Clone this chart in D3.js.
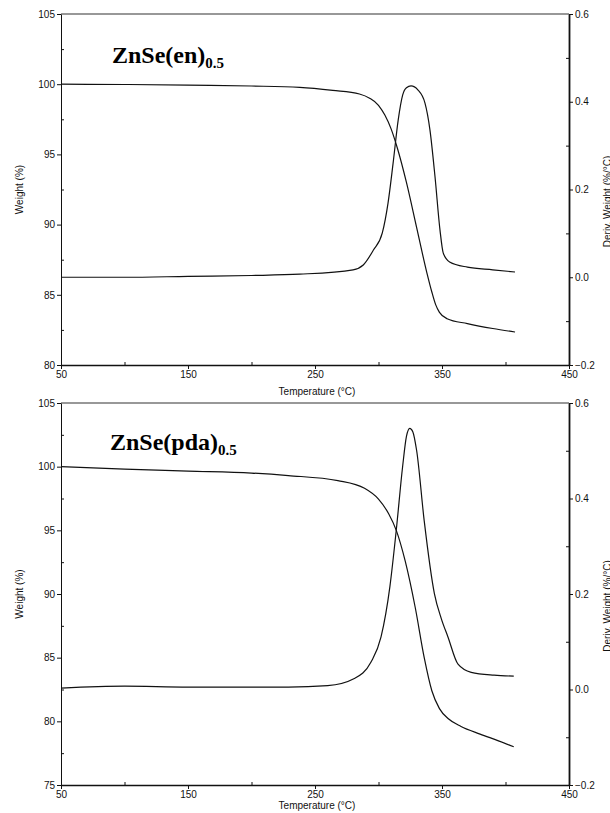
<!DOCTYPE html>
<html>
<head>
<meta charset="utf-8">
<script src="https://d3js.org/d3.v7.min.js"></script>
<style>
  body { margin: 0; background: #fff; }
  svg { display: block; }
  .axis text { font-family: "Liberation Sans", Arial, sans-serif; font-size: 10px; fill: #111; }
  .axis path, .axis line { stroke: #111; }
  .lbl { font-family: "Liberation Sans", Arial, sans-serif; font-size: 10px; fill: #111; }
  .title { font-family: "Liberation Serif", "Times New Roman", serif; font-weight: bold; font-size: 24px; fill: #000; }
</style>
</head>
<body>
<div id="chart"></div>
<script>
// temperature ticks (shared by both panels)
const tempTicks = [50, 150, 250, 350, 450];
const tempMinor = [100, 200, 300, 400];
const derivTicks = [-0.2, 0, 0.2, 0.4, 0.6];
const derivMinor = [-0.1, 0.1, 0.3, 0.5];

// ZnSe(en)0.5 : [temperature, weight %]
const enWeight = [
  [50, 100.0], [100, 99.98], [150, 99.93], [200, 99.87], [238, 99.78], [264, 99.56],
  [285, 99.3], [293, 99.0], [300, 98.5], [305, 97.8], [310, 96.8], [315, 95.4],
  [322, 93.0], [330, 89.8], [338, 86.6], [342, 85.2], [345, 84.3], [348, 83.75],
  [354, 83.3], [370, 82.95], [390, 82.6], [407.5, 82.35]
];
// ZnSe(en)0.5 : [temperature, deriv. weight %/°C]
const enDeriv = [
  [50, 0.0], [100, 0.0], [150, 0.002], [200, 0.004], [238, 0.007], [280, 0.017],
  [288, 0.028], [296, 0.062], [303, 0.101], [307.5, 0.169], [311.5, 0.26], [315.5, 0.358],
  [319, 0.415], [322, 0.432], [325.6, 0.436], [331, 0.427], [336.6, 0.397], [340.5, 0.336],
  [344.5, 0.229], [348.4, 0.108], [351, 0.055], [356, 0.035], [370, 0.023], [390, 0.017],
  [407.5, 0.012]
];
const enWeightTicks = [80, 85, 90, 95, 100, 105];
const enWeightMinor = [82.5, 87.5, 92.5, 97.5, 102.5];

// ZnSe(pda)0.5
const pdaWeight = [
  [50, 100.0], [100, 99.8], [150, 99.65], [200, 99.5], [229, 99.3], [268, 98.9],
  [289, 98.3], [300, 97.45], [308, 96.3], [314, 95.0], [321, 92.6], [329, 88.9],
  [336, 85.0], [342, 82.4], [348, 81.0], [355, 80.2], [365, 79.6], [380, 79.0],
  [395, 78.45], [406.5, 78.0]
];
const pdaDeriv = [
  [50, 0.003], [100, 0.007], [150, 0.005], [200, 0.005], [229, 0.005], [260, 0.008],
  [281, 0.023], [294, 0.057], [302, 0.11], [309, 0.216], [314, 0.334], [319, 0.467],
  [322, 0.53], [324.6, 0.547], [327, 0.54], [330, 0.501], [336, 0.353], [344, 0.201],
  [349.5, 0.148], [354.7, 0.11], [362.6, 0.053], [373, 0.036], [391, 0.030], [406.5, 0.028]
];
const pdaWeightTicks = [75, 80, 85, 90, 95, 100, 105];
const pdaWeightMinor = [77.5, 82.5, 87.5, 92.5, 97.5, 102.5];

const panels = [
  { name: 'ZnSe(en)', sub: '0.5', top: 14, bottom: 365, wDomain: [80, 105],
    wTicks: enWeightTicks, wMinor: enWeightMinor, weight: enWeight, deriv: enDeriv,
    titleX: 112, titleY: 63 },
  { name: 'ZnSe(pda)', sub: '0.5', top: 403, bottom: 785, wDomain: [75, 105],
    wTicks: pdaWeightTicks, wMinor: pdaWeightMinor, weight: pdaWeight, deriv: pdaDeriv,
    titleX: 110, titleY: 450 }
];

const W = 610, H = 813;
const left = 61, right = 569;

const svg = d3.select('#chart').append('svg')
  .attr('width', W)
  .attr('height', H);

const x = d3.scaleLinear().domain([50, 450]).range([left, right]);

panels.forEach((p, i) => {
  const yW = d3.scaleLinear().domain(p.wDomain).range([p.bottom, p.top]);
  const yD = d3.scaleLinear().domain([-0.2, 0.6]).range([p.bottom, p.top]);
  const g = svg.append('g');

  // top frame line
  g.append('line')
    .attr('x1', left).attr('x2', right)
    .attr('y1', p.top).attr('y2', p.top)
    .attr('stroke', '#333').attr('stroke-width', 1.2);

  // x axis
  g.append('g').attr('class', 'axis')
    .attr('transform', `translate(0,${p.bottom})`)
    .call(d3.axisBottom(x).tickValues(tempTicks).tickSize(4).tickSizeOuter(0).tickPadding(2))
    .call(a => a.select('.domain').attr('stroke-width', 1.5));
  g.append('g').attr('class', 'axis')
    .attr('transform', `translate(0,${p.bottom})`)
    .call(d3.axisBottom(x).tickValues(tempMinor).tickSize(-3).tickFormat(''))
    .call(a => a.select('.domain').remove());

  // left weight axis
  g.append('g').attr('class', 'axis')
    .attr('transform', `translate(${left},0)`)
    .call(d3.axisLeft(yW).tickValues(p.wTicks).tickSize(4).tickSizeOuter(0).tickPadding(2))
    .call(a => a.select('.domain').attr('stroke', '#444'));
  g.append('g').attr('class', 'axis')
    .attr('transform', `translate(${left},0)`)
    .call(d3.axisLeft(yW).tickValues(p.wMinor).tickSize(-3).tickFormat(''))
    .call(a => a.select('.domain').remove());

  // right derivative axis
  g.append('g').attr('class', 'axis')
    .attr('transform', `translate(${right},0)`)
    .call(d3.axisRight(yD).tickValues(derivTicks).tickSize(4).tickSizeOuter(0).tickPadding(2)
      .tickFormat(d3.format('.1f')))
    .call(a => a.select('.domain').attr('stroke-width', 1.8));
  g.append('g').attr('class', 'axis')
    .attr('transform', `translate(${right},0)`)
    .call(d3.axisRight(yD).tickValues(derivMinor).tickSize(-3).tickFormat(''))
    .call(a => a.select('.domain').remove());

  // curves
  const lineW = d3.line().x(d => x(d[0])).y(d => yW(d[1])).curve(d3.curveMonotoneX);
  const lineD = d3.line().x(d => x(d[0])).y(d => yD(d[1])).curve(d3.curveMonotoneX);
  g.append('path').datum(p.weight)
    .attr('d', lineW).attr('fill', 'none').attr('stroke', '#111').attr('stroke-width', 1.2);
  g.append('path').datum(p.deriv)
    .attr('d', lineD).attr('fill', 'none').attr('stroke', '#111').attr('stroke-width', 1.2);

  // labels
  const midY = (p.top + p.bottom) / 2;
  g.append('text').attr('class', 'lbl')
    .attr('transform', `translate(23,${midY}) rotate(-90)`)
    .attr('text-anchor', 'middle')
    .text('Weight (%)');
  // right label runs off the page edge, as in the original figure
  g.append('text').attr('class', 'lbl')
    .attr('transform', `translate(611,${midY + 12}) rotate(-90)`)
    .attr('text-anchor', 'middle')
    .text('Deriv. Weight (%/°C)');
  g.append('text').attr('class', 'lbl')
    .attr('x', (left + right) / 2 + 2)
    .attr('y', i === 0 ? p.bottom + 30 : p.bottom + 24)
    .attr('text-anchor', 'middle')
    .text('Temperature (°C)');

  // sample title
  const t = g.append('text').attr('class', 'title')
    .attr('x', p.titleX).attr('y', p.titleY);
  t.append('tspan').text(p.name);
  t.append('tspan').attr('font-size', '15px').attr('dy', 5).text(p.sub);
});
</script>
</body>
</html>
